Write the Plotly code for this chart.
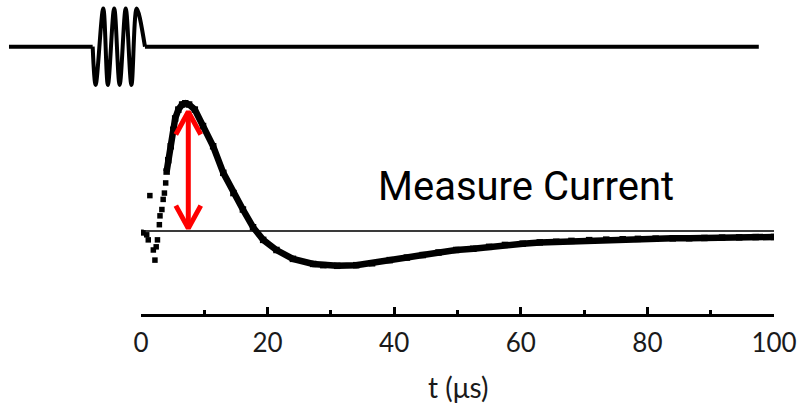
import plotly.graph_objects as go

# Transient current after the RF pulse (time in microseconds, current in arbitrary units)
early_t = [0.0, 0.3, 0.9, 1.15, 1.4, 1.95, 2.2, 2.4, 2.6, 2.9, 3.0, 3.3, 3.5, 3.7, 3.9]
early_i = [-0.01, -0.015, -0.03, -0.07, 0.28, -0.15, -0.23, -0.125, -0.07, 0.05,
           0.12, 0.17, 0.25, 0.30, 0.38]

main_t = [4.05, 4.3, 4.7, 5.1, 5.4, 5.9, 6.5, 7.0, 7.6, 8.5, 9.8, 11.4, 13.0, 14.6,
          16.1, 17.7, 19.3, 21.4, 24.0, 27.2, 28.8, 31.0, 34.0, 36.5, 39.3, 42.0,
          44.5, 47.0, 49.8, 52.5, 55.0, 57.5, 60.3, 63.0, 65.6, 68.0, 70.8, 73.5,
          76.1, 78.5, 81.3, 84.0, 86.6, 89.0, 91.8, 94.5, 97.1, 100.0]
main_i = [0.47, 0.56, 0.67, 0.80, 0.89, 0.96, 1.0, 1.01, 1.0, 0.96, 0.83, 0.67, 0.46,
          0.30, 0.17, 0.03, -0.07, -0.15, -0.22, -0.26, -0.27, -0.275, -0.27, -0.255,
          -0.23, -0.21, -0.19, -0.17, -0.15, -0.14, -0.125, -0.11, -0.10, -0.09,
          -0.085, -0.078, -0.072, -0.068, -0.065, -0.062, -0.06, -0.058, -0.057,
          -0.055, -0.052, -0.05, -0.048, -0.047]

# RF excitation pulse drawn above the trace (same time axis, normalised amplitude)
pulse_t = [-20.85, -7.63, -7.16, -5.96, -5.23, -4.23, -3.37, -2.41, -1.51, -0.67, 0.63, 97.6]
pulse_a = [0, 0, -1, 1, -1, 1, -1, 1, -1, 1, 0, 0]

# Peak-amplitude marker
arrow_t = 7.47
arrow_top = 0.943
arrow_bottom = 0.021
head_dt = 1.97
head_di = 0.18

x_ticks = [0, 20, 40, 60, 80, 100]
x_minor = [10, 30, 50, 70, 90]

W, H = 799, 405
x_lo = -22.27
x_hi = 103.95

fig = go.Figure()

# zero-current reference line
fig.add_trace(go.Scatter(x=[-0.15, 100.15], y=[0, 0], mode="lines",
                         line=dict(color="#3a3a3a", width=2), hoverinfo="skip"))

fig.add_trace(go.Scatter(x=early_t, y=early_i, mode="markers",
                         marker=dict(symbol="square", size=5.5, color="black")))
fig.add_trace(go.Scatter(x=main_t, y=main_i, mode="lines+markers",
                         line=dict(color="black", width=6.5),
                         marker=dict(symbol="square", size=6.5, color="black")))

# double-headed arrow
ax = [arrow_t, arrow_t, None,
      arrow_t - head_dt, arrow_t, arrow_t + head_dt, None,
      arrow_t - head_dt, arrow_t, arrow_t + head_dt]
ay = [arrow_bottom, arrow_top, None,
      arrow_top - head_di, arrow_top, arrow_top - head_di, None,
      arrow_bottom + head_di, arrow_bottom, arrow_bottom + head_di]
fig.add_trace(go.Scatter(x=ax, y=ay, mode="lines",
                         line=dict(color="#ff0000", width=5), hoverinfo="skip"))

# pulse: flat lead-in and tail as straight lines, oscillating burst smoothed
flat_t = pulse_t[:2] + [None] + pulse_t[-2:]
flat_a = pulse_a[:2] + [None] + pulse_a[-2:]
fig.add_trace(go.Scatter(x=flat_t, y=flat_a, mode="lines", xaxis="x2", yaxis="y2",
                         line=dict(color="black", width=4), hoverinfo="skip"))
fig.add_trace(go.Scatter(x=pulse_t[1:-1], y=pulse_a[1:-1], mode="lines",
                         xaxis="x2", yaxis="y2",
                         line=dict(color="black", width=4, shape="spline", smoothing=1.0),
                         hoverinfo="skip"))

fig.add_annotation(x=37.1, y=0.35, xref="x", yref="y", text="Measure Current",
                   showarrow=False, xanchor="left", yanchor="middle",
                   font=dict(family="Roboto", size=40, color="black"))
fig.add_annotation(x=50, y=1 - 387 / H, xref="x", yref="paper", text="t (μs)",
                   showarrow=False, xanchor="center", yanchor="middle",
                   font=dict(family="Lato", size=28, color="#1a1a1a"))

fig.update_layout(
    width=W, height=H,
    margin=dict(l=0, r=0, t=0, b=0, autoexpand=False),
    paper_bgcolor="white", plot_bgcolor="rgba(0,0,0,0)",
    showlegend=False,
    xaxis=dict(domain=[141 / W, 774 / W], range=[0, 100], showgrid=False, zeroline=False,
               showline=True, linecolor="black", linewidth=3,
               tickmode="array", tickvals=x_ticks, ticktext=[str(v) for v in x_ticks],
               ticks="inside", ticklen=7, tickwidth=2.5, tickcolor="black",
               minor=dict(tickmode="array", tickvals=x_minor, ticks="inside",
                          ticklen=4, tickwidth=2.5, tickcolor="black"),
               tickfont=dict(family="Lato", size=26, color="#1a1a1a"),
               ticklabelstandoff=4, fixedrange=True),
    yaxis=dict(domain=[1 - 314 / H, 1 - 60 / H], range=[-0.656, 1.352], visible=False,
               fixedrange=True),
    xaxis2=dict(domain=[0, 1], range=[x_lo, x_hi], visible=False, anchor="y2",
                fixedrange=True),
    yaxis2=dict(domain=[0, 1], range=[-9.38, 1.222], visible=False, anchor="x2",
                fixedrange=True),
)

fig.write_html("out.html")
